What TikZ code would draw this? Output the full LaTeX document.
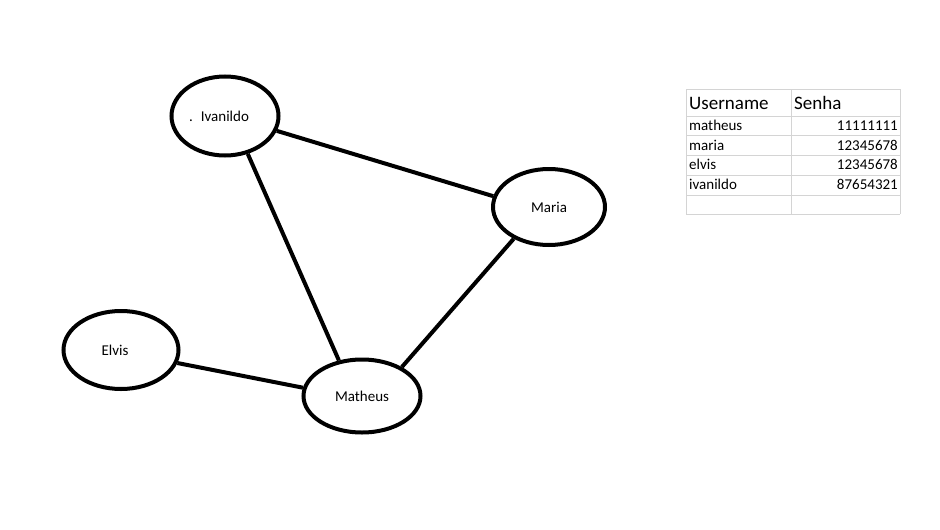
\documentclass[tikz,border=0pt]{standalone}
\usepackage{fontspec}
\setmainfont{Carlito}
\usetikzlibrary{shapes.geometric}

\newcommand{\colleft}{686}
\newcommand{\colmid}{791}
\newcommand{\colright}{900}

\begin{document}
\begin{tikzpicture}[x=1pt, y=-1pt,
    person/.style={draw, ellipse, line width=4pt, inner sep=0pt, font=\fontsize{15}{17}\selectfont},
    link/.style={line width=4pt},
    grid color/.style={draw=black!17, line width=1pt},
    cell font/.style={font=\fontsize{15}{17}\selectfont, inner sep=0pt},
    head font/.style={font=\fontsize{19}{21}\selectfont, inner sep=0pt}
]
\useasboundingbox (0,0) rectangle (940,530);

% GRAPH
\node[person, minimum width=107pt, minimum height=79pt] (ivanildo) at (225,116) {\hspace*{-12pt}.\hspace{8pt}Ivanildo};
\node[person, minimum width=112pt, minimum height=76pt] (maria) at (549,207) {Maria};
\node[person, minimum width=115pt, minimum height=78pt] (elvis) at (121,350) {\hspace*{-12pt}Elvis};
\node[person, minimum width=117pt, minimum height=73pt] (matheus) at (362,396) {Matheus};

\draw[link] (ivanildo.344) -- (maria.169);
\draw[link] (ivanildo.301) -- (matheus.123);
\draw[link] (maria.222) -- (matheus.36);
\draw[link] (elvis.347) -- (matheus.172);

% TABLE
% Borders
\foreach \row in {89,116,135,155,175,195,214}
    \draw[grid color] (\colleft,\row) -- (\colright,\row);
\foreach \col in {\colleft,\colmid,\colright}
    \draw[grid color] (\col,89) -- (\col,214);

% Header
\node[head font, anchor=west] (userhead) at (\colleft+3,103) {Username};
\node[head font, anchor=west] (senhahead) at (\colmid+3,103) {Senha};

% Rows
\foreach \user/\pass [count=\i] in {matheus/11111111, maria/12345678, elvis/12345678, ivanildo/87654321} {
    \node[cell font, anchor=west] (user\i) at (\colleft+3,106+19.6*\i) {\user};
    \node[cell font, anchor=east] (pass\i) at (\colright-2,106+19.6*\i) {\pass};
}

\end{tikzpicture}
\end{document}
